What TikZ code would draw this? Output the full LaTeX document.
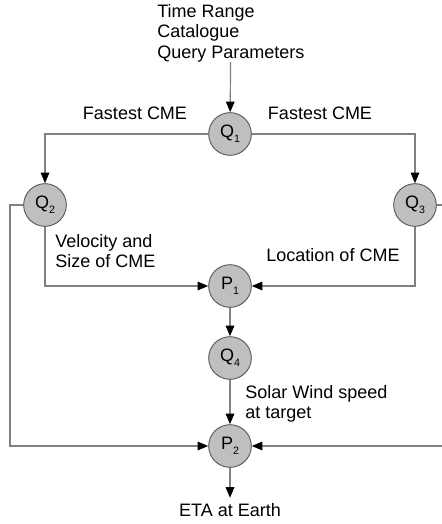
\documentclass[tikz,border=0pt]{standalone}
\usepackage{fontspec}
\setmainfont{Liberation Sans}
\usetikzlibrary{arrows.meta}

\newcommand{\procname}[2]{#1\raisebox{-4pt}{\fontsize{8}{8}\selectfont #2}}

\begin{document}
\begin{tikzpicture}[x=0.75pt, y=-0.75pt,
    proc/.style={circle, draw=black!65, fill=black!25, line width=0.7pt,
        minimum size=32pt, inner sep=0pt, font=\fontsize{13.5}{16}\selectfont},
    lbl/.style={inner sep=0pt, align=left, font=\fontsize{13.5}{15.4}\selectfont},
    link/.style={draw=black!50, line width=0.9pt},
    arr/.style={link, -{Triangle[length=8pt, width=6.5pt, color=black]}}]
    \useasboundingbox (0, 0) rectangle (442, 524);
    \clip (0, 0) rectangle (442, 524);

    \node [lbl, anchor=west] (params) at (157, 33) {Time Range\\Catalogue\\Query Parameters};
    \node [proc] (q1) at (230, 134) {\procname{Q}{1}};
    \node [proc] (q2) at (45, 205) {\procname{Q}{2}};
    \node [proc] (q3) at (415, 205) {\procname{Q}{3}};
    \node [proc] (p1) at (230, 286) {\procname{P}{1}};
    \node [proc] (q4) at (230, 358) {\procname{Q}{4}};
    \node [proc] (p2) at (230, 446) {\procname{P}{2}};
    \node [lbl, inner sep=4pt] (eta) at (230, 510) {ETA at Earth};

    \node [lbl] (fastl) at (135, 113) {Fastest CME};
    \node [lbl] (fastr) at (320, 113) {Fastest CME};
    \node [lbl, anchor=west] (velsize) at (55, 251) {Velocity and\\Size of CME};
    \node [lbl] (loc) at (333, 255) {Location of CME};
    \node [lbl, anchor=west] (wind) at (245, 404) {Solar Wind speed\\at target};

    \coordinate (lbend) at (10, 205);
    \coordinate (rbend) at (452, 205);

    \draw [arr] (params) -- (q1);
    \draw [arr] (q1) -| (q2);
    \draw [arr] (q1) -| (q3);
    \draw [arr] (q2) |- (p1);
    \draw [arr] (q3) |- (p1);
    \draw [arr] (p1) -- (q4);
    \draw [arr] (q4) -- (p2);
    \draw [arr] (q2) -- (lbend) |- (p2);
    \draw [arr] (q3) -- (rbend) |- (p2);
    \draw [arr] (p2) -- (eta);
\end{tikzpicture}
\end{document}
